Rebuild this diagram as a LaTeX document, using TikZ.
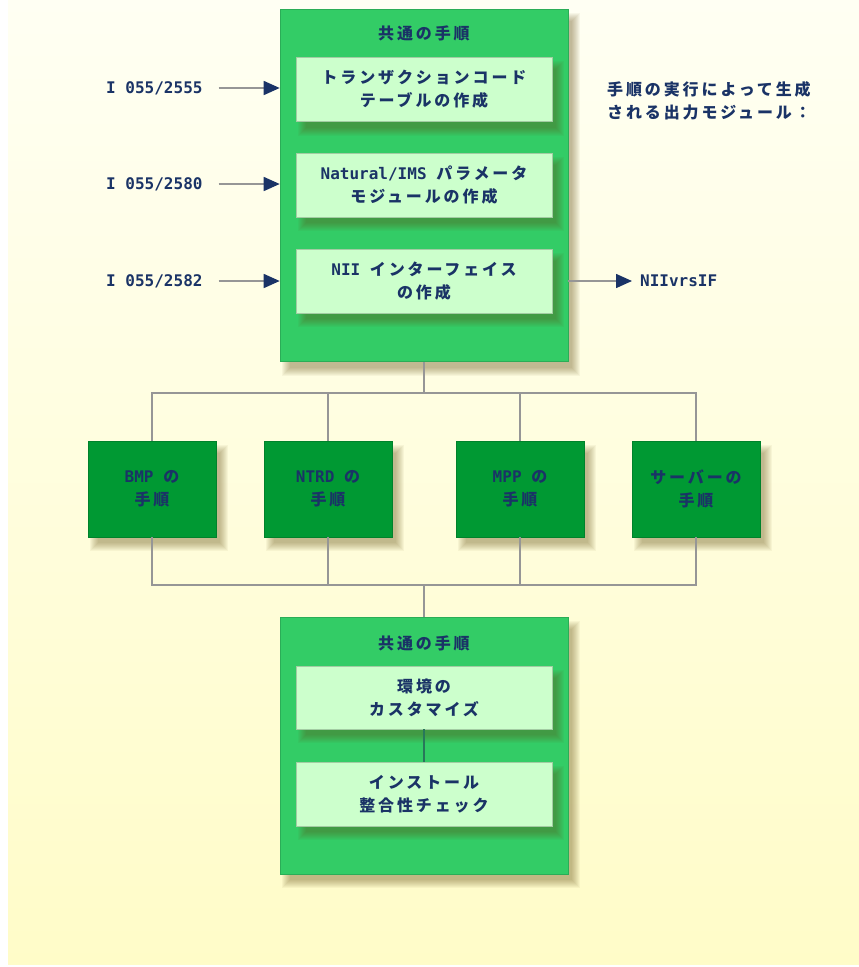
\documentclass[tikz,border=0pt]{standalone}
\usepackage{fontspec}
\usetikzlibrary{arrows.meta}
\newfontfamily\jp{Noto Sans CJK JP}[LetterSpace=18]
\newfontfamily\lat{DejaVu Sans Mono}
\definecolor{bgtop}{RGB}{255,255,243}
\definecolor{bgbot}{RGB}{255,252,200}
\definecolor{midgreen}{RGB}{51,204,102}
\definecolor{lightgreen}{RGB}{204,255,204}
\definecolor{darkgreen}{RGB}{0,153,51}
\definecolor{navy}{RGB}{26,51,102}
\definecolor{linegray}{RGB}{150,150,150}
\definecolor{innerline}{RGB}{40,120,90}
\definecolor{shadowbrown}{RGB}{100,80,20}
\pgfdeclarelayer{bglayer}
\pgfdeclarelayer{shadlayer}
\pgfdeclarelayer{blocks}
\pgfdeclarelayer{inshad}
\pgfsetlayers{bglayer,shadlayer,blocks,inshad,main}
\newcommand\softshadow[2]{%
  \begin{pgfonlayer}{#2}
  \foreach \e in {-3,...,5} {
    \fill[shadowbrown, fill opacity=0.05]
      ([shift={(7-\e,9-\e)}]#1.north west) rectangle ([shift={(7+\e,9+\e)}]#1.south east);
  }
  \end{pgfonlayer}}
\tikzset{
  txt/.style={text=navy, font=\jp\bfseries\fontsize{16}{23}\selectfont, align=center, inner sep=0pt},
  bigbox/.style={fill=midgreen, draw=midgreen!85!black, line width=0.6pt},
  inbox/.style={txt, fill=lightgreen, draw=lightgreen!80!black, line width=0.5pt,
    minimum width=256pt, minimum height=64pt},
  darkbox/.style={txt, fill=darkgreen, draw=darkgreen!85!black, line width=0.5pt,
    minimum width=128pt, minimum height=96pt},
  conn/.style={draw=linegray, line width=1.6pt},
  arr/.style={draw=linegray, line width=1.6pt, -{Triangle[length=16pt, width=14pt, color=navy]}},
  lab/.style={txt, anchor=west}
}
\begin{document}
\begin{tikzpicture}[x=1pt,y=-1pt]
\useasboundingbox (0,0) rectangle (859,967);
\begin{pgfonlayer}{bglayer}
\fill[white] (0,0) rectangle (859,967);
\shade[top color=bgtop, bottom color=bgbot] (8,0) rectangle (859,964);
\end{pgfonlayer}

% big blocks
\begin{pgfonlayer}{blocks}
\node[bigbox, minimum width=288pt, minimum height=352pt] (top) at (424,185.5) {};
\node[bigbox, minimum width=288pt, minimum height=257pt] (bot) at (424,745.5) {};
\end{pgfonlayer}
\softshadow{top}{shadlayer}
\softshadow{bot}{shadlayer}

% top common block content
\node[txt] (toptitle) at (424,33) {共通の手順};
\node[inbox] (i1) at (424,89.5) {トランザクションコード\\テーブルの作成};
\node[inbox] (i2) at (424,185) {{\lat Natural/IMS\ }パラメータ\\モジュールの作成};
\node[inbox] (i3) at (424,281) {{\lat NII\ }インターフェイス\\の作成};
\softshadow{i1}{inshad}
\softshadow{i2}{inshad}
\softshadow{i3}{inshad}

% left inputs
\node[lab] (l1) at (106,88) {\lat I 055/2555};
\node[lab] (l2) at (106,184) {\lat I 055/2580};
\node[lab] (l3) at (106,281) {\lat I 055/2582};
\draw[arr] ([xshift=16pt]l1.east) -- (top.west |- l1);
\draw[arr] ([xshift=16pt]l2.east) -- (top.west |- l2);
\draw[arr] ([xshift=16pt]l3.east) -- (top.west |- l3);

% right output
\node[txt] (outtxt) at (709,101) {手順の実行によって生成\\される出力モジュール：};
\node[lab] (nii) at (640,281) {\lat NIIvrsIF};
\draw[arr] (top.east |- nii) -- ([xshift=-8pt]nii.west);

% middle procedures
\node[darkbox] (bmp) at (152,489) {{\lat BMP\ }の\\手順};
\node[darkbox] (ntrd) at (328,489) {{\lat NTRD\ }の\\手順};
\node[darkbox] (mpp) at (520,489) {{\lat MPP\ }の\\手順};
\node[darkbox] (srv) at (696,489) {サーバーの\\手順};
\softshadow{bmp}{shadlayer}
\softshadow{ntrd}{shadlayer}
\softshadow{mpp}{shadlayer}
\softshadow{srv}{shadlayer}

% bottom common block content
\node[txt] (bottitle) at (424,643) {共通の手順};
\node[inbox, minimum height=63pt] (b1) at (424,697.5) {環境の\\カスタマイズ};
\node[inbox] (b2) at (424,794) {インストール\\整合性チェック};
\softshadow{b1}{inshad}
\softshadow{b2}{inshad}
\draw[draw=innerline, line width=1.6pt] (b1.south) -- (b2.north);

% connectors
\coordinate (j1) at (424,393);
\coordinate (j2) at (424,585);
\draw[conn] (top.south) -- (j1);
\draw[conn] (bmp.north) |- (j1) -| (srv.north);
\draw[conn] (ntrd.north) -- (ntrd.north |- j1);
\draw[conn] (mpp.north) -- (mpp.north |- j1);
\draw[conn] (bmp.south) |- (j2) -| (srv.south);
\draw[conn] (ntrd.south) -- (ntrd.south |- j2);
\draw[conn] (mpp.south) -- (mpp.south |- j2);
\draw[conn] (j2) -- (bot.north);
\end{tikzpicture}
\end{document}
